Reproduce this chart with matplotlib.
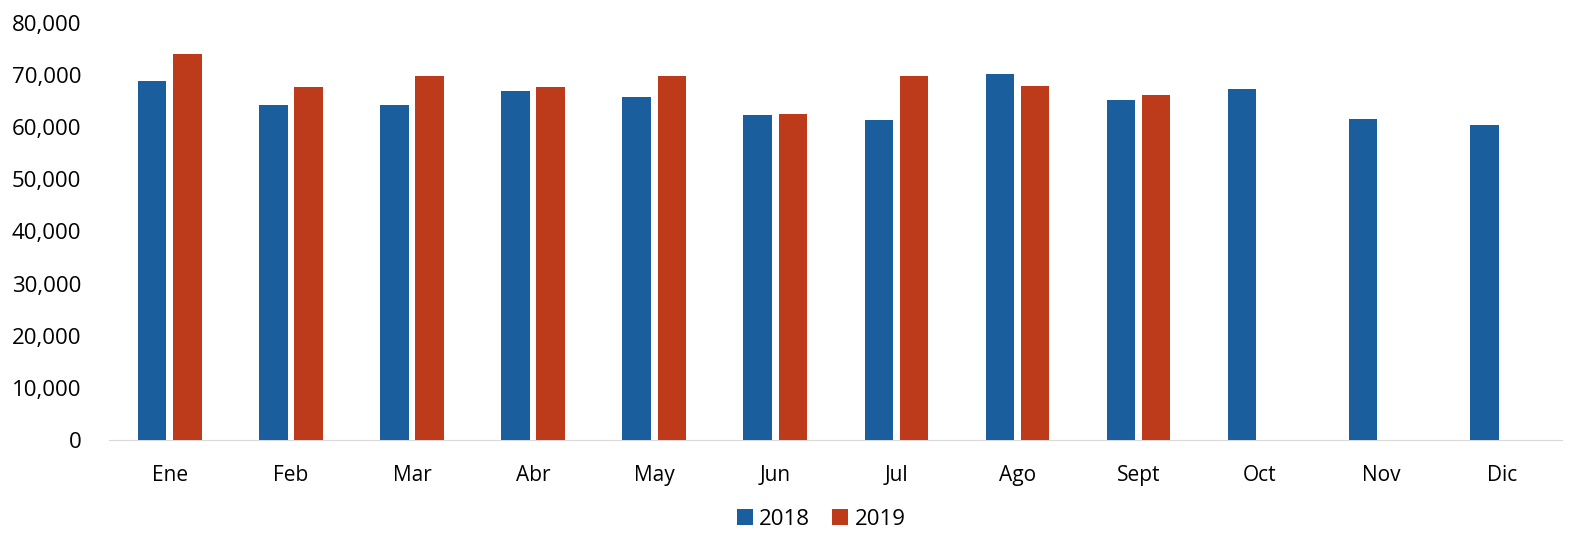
import numpy as np
import matplotlib.pyplot as plt
from matplotlib.ticker import FuncFormatter

# datos
meses = ['Ene', 'Feb', 'Mar', 'Abr', 'May', 'Jun', 'Jul', 'Ago', 'Sept', 'Oct', 'Nov', 'Dic']
v2018 = [68800, 64300, 64300, 67000, 65800, 62300, 61400, 70300, 65200, 67400, 61600, 60400]
v2019 = [74000, 67700, 69800, 67700, 69900, 62600, 69900, 68000, 66200]

plt.rcParams['font.family'] = ['Open Sans', 'DejaVu Sans']

fig = plt.figure(figsize=(15.83, 5.34), dpi=100)
ax = fig.add_axes([0.069, 0.176, 0.918, 0.781])

x = np.arange(len(meses))
w = 0.235
ax.bar(x - 0.145, v2018, width=w, color='#1B5E9E', label='2018', zorder=3)
ax.bar(x[:len(v2019)] + 0.145, v2019, width=w, color='#BD3B1B', label='2019', zorder=3)

ax.set_ylim(0, 80000)
ax.set_xlim(-0.5, 11.5)
ax.set_yticks(np.arange(0, 80001, 10000))
ax.yaxis.set_major_formatter(FuncFormatter(lambda v, p: f'{int(v):,}'))
ax.set_xticks(x)
ax.set_xticklabels(meses)

for s in ['top', 'right', 'left']:
    ax.spines[s].set_visible(False)
ax.spines['bottom'].set_color('#d9d9d9')
ax.tick_params(axis='y', length=0, pad=20, labelsize=16)
ax.tick_params(axis='x', length=0, pad=18, labelsize=15)

ax.legend(loc='center', bbox_to_anchor=(0.49, -0.19), ncol=2, frameon=False,
          fontsize=16, handlelength=0.7, handleheight=0.7, handletextpad=0.3, columnspacing=1.0)

fig.savefig('out.png', dpi=100)
